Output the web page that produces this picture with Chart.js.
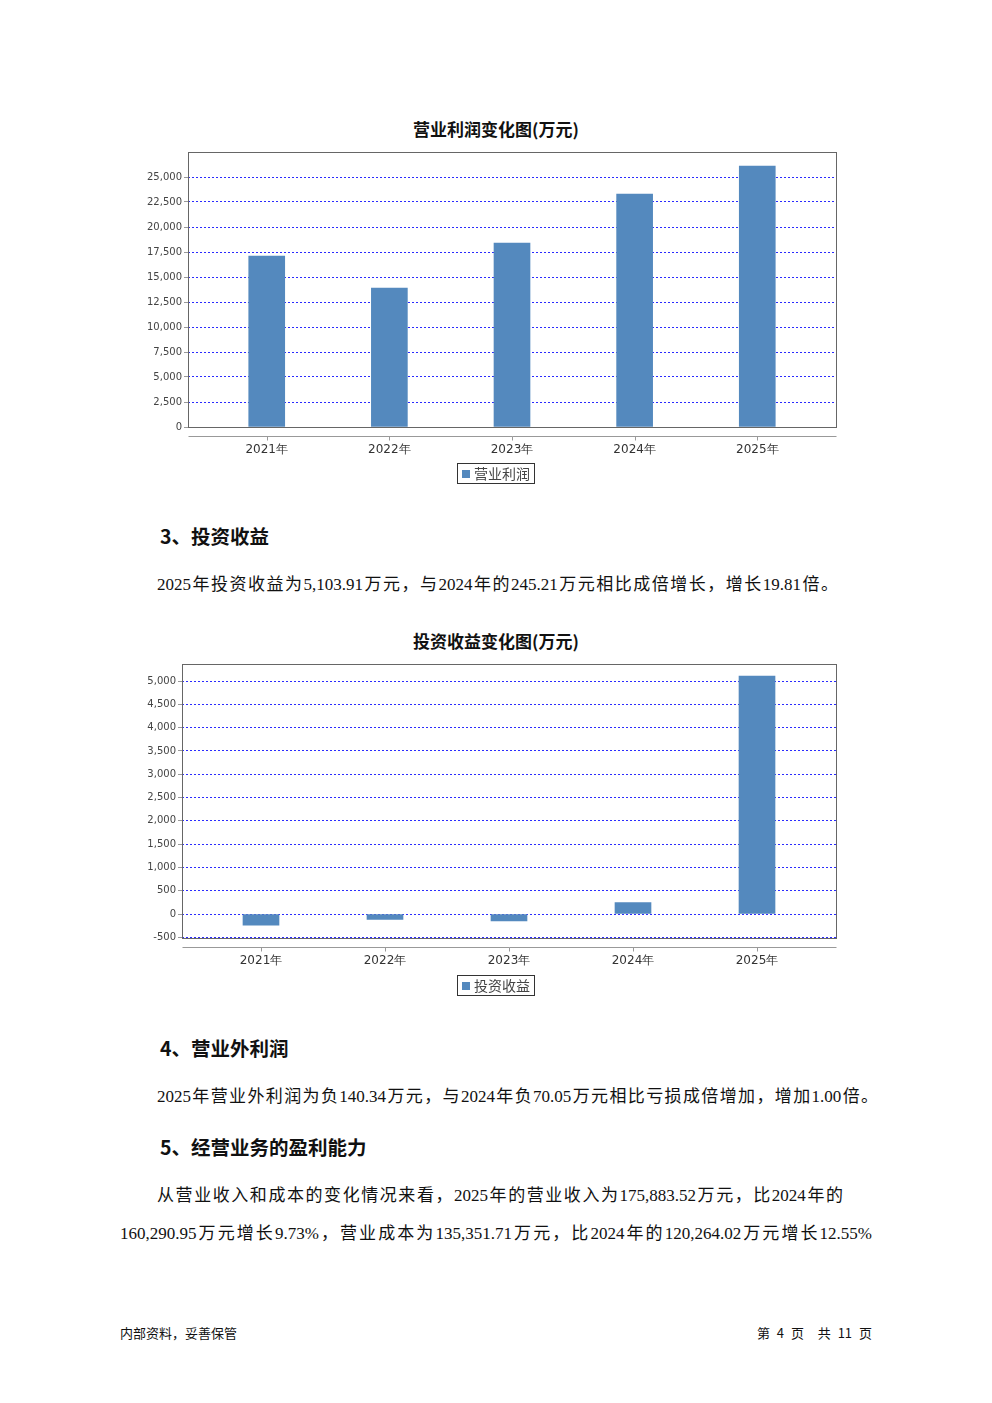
<!DOCTYPE html>
<html>
<head>
<meta charset="utf-8">
<script src="https://cdn.jsdelivr.net/npm/chart.js@4.4.1/dist/chart.umd.min.js"></script>
<style>
  body { margin: 0; background: #fff; }
  #page { position: relative; width: 992px; height: 1403px; overflow: hidden; color: #111; }
  .abs { position: absolute; white-space: nowrap; }
  .ctitle { left: 0; width: 992px; text-align: center; font: bold 17px "Noto Sans CJK SC", sans-serif; line-height: 20px; color: #111; }
  .legend { left: 457px; width: 76px; height: 19px; border: 1px solid #333; font: 14px "Noto Sans CJK SC", sans-serif; color: #444; line-height: 19px; }
  .legend i { display: inline-block; width: 8px; height: 8px; background: #5489be; margin: 0 4px 0 4px; vertical-align: 1px; }
  .head { left: 160px; font: bold 19.5px "Noto Sans CJK SC", sans-serif; line-height: 24px; }
  .line { font: 17px "Liberation Serif", "Noto Sans CJK SC", serif; line-height: 24px; text-align: justify; text-align-last: justify; }
  .foot { font: 13px "Noto Sans CJK SC", sans-serif; line-height: 16px; color: #111; }
  canvas { position: absolute; }
</style>
</head>
<body>
<div id="page">
  <div class="abs ctitle" style="top:119px">营业利润变化图(万元)</div>
  <canvas id="profitChart" width="720" height="330" style="left:130px; top:140px; width:720px; height:330px"></canvas>
  <div class="abs legend" style="top:463px"><i></i>营业利润</div>

  <div class="abs head" style="top:524px">3、投资收益</div>
  <div class="abs line" style="left:157px; width:681px; top:573px">2025年投资收益为5,103.91万元，与2024年的245.21万元相比成倍增长，增长19.81倍。</div>

  <div class="abs ctitle" style="top:631px">投资收益变化图(万元)</div>
  <canvas id="investChart" width="726" height="329" style="left:124px; top:652px; width:726px; height:329px"></canvas>
  <div class="abs legend" style="top:975px"><i></i>投资收益</div>

  <div class="abs head" style="top:1036px">4、营业外利润</div>
  <div class="abs line" style="left:157px; width:721px; top:1085px">2025年营业外利润为负140.34万元，与2024年负70.05万元相比亏损成倍增加，增加1.00倍。</div>

  <div class="abs head" style="top:1135px">5、经营业务的盈利能力</div>
  <div class="abs line" style="left:157px; width:686px; top:1184px">从营业收入和成本的变化情况来看，2025年的营业收入为175,883.52万元，比2024年的</div>
  <div class="abs line" style="left:120px; width:752px; top:1222px">160,290.95万元增长9.73%，营业成本为135,351.71万元，比2024年的120,264.02万元增长12.55%</div>

  <div class="abs foot" style="left:120px; top:1325px">内部资料，妥善保管</div>
  <div class="abs foot" style="right:120px; top:1325px; word-spacing:4px">第 4 页 &nbsp;共 11 页</div>
</div>
<script>
// categories
const years = ["2021年", "2022年", "2023年", "2024年", "2025年"];

// 营业利润 (万元)
const profitValues = [17100, 13900, 18400, 23300, 26100];
const profitTicks = [0, 2500, 5000, 7500, 10000, 12500, 15000, 17500, 20000, 22500, 25000];

// 投资收益 (万元)
const investValues = [-240, -115, -150, 245.21, 5103.91];
const investTicks = [-500, 0, 500, 1000, 1500, 2000, 2500, 3000, 3500, 4000, 4500, 5000];

const BAR_COLOR = "#5489be";

// plot frame plus the x axis line that sits a little below it
const framePlugin = {
  id: "frame",
  afterDraw(chart) {
    const { ctx, chartArea: a, scales } = chart;
    const l = Math.round(a.left) + 0.5, t = Math.round(a.top) + 0.5;
    const r = Math.round(a.right) + 0.5, b = Math.round(a.bottom) + 0.5;
    ctx.save();
    ctx.strokeStyle = "#666";
    ctx.lineWidth = 1;
    ctx.strokeRect(l, t, r - l, b - t);
    const ay = b + 9;
    ctx.strokeStyle = "#999";
    ctx.beginPath();
    ctx.moveTo(l, ay);
    ctx.lineTo(r, ay);
    years.forEach((_, i) => {
      const x = Math.round(scales.x.getPixelForValue(i)) + 0.5;
      ctx.moveTo(x, ay);
      ctx.lineTo(x, ay + 4);
    });
    ctx.stroke();
    ctx.restore();
  }
};

function makeChart(id, label, values, ticks, yMin, yMax, xPad) {
  return new Chart(document.getElementById(id).getContext("2d"), {
    type: "bar",
    data: {
      datasets: [{
        label: label,
        data: values.map((v, i) => ({ x: i, y: v })),
        backgroundColor: BAR_COLOR,
        borderWidth: 0,
        barThickness: 36
      }]
    },
    options: {
      responsive: false,
      animation: false,
      layout: { padding: { left: 0, right: 14, top: 12, bottom: 13 } },
      plugins: { legend: { display: false }, title: { display: false }, tooltip: { enabled: false } },
      scales: {
        x: {
          type: "linear",
          offset: false,
          min: -xPad,
          max: 4 + xPad,
          afterBuildTicks: s => { s.ticks = years.map((_, i) => ({ value: i })); },
          afterFit: s => { s.height = 30; },
          grid: { drawOnChartArea: false, drawTicks: false, offset: false },
          border: { display: false },
          ticks: {
            autoSkip: false, maxRotation: 0, padding: 16,
            color: "#333", font: { family: "DejaVu Sans", size: 12 },
            callback: v => years[v]
          }
        },
        y: {
          min: yMin,
          max: yMax,
          afterBuildTicks: s => { s.ticks = ticks.map(v => ({ value: v })); },
          afterFit: s => { s.width = 58; },
          grid: { color: "#2b2bff", lineWidth: 1, tickLength: 4, tickColor: "#999" },
          border: { display: false, dash: [2, 2] },
          ticks: {
            padding: 2, color: "#444",
            font: { family: "DejaVu Sans", size: 10 },
            callback: v => v.toLocaleString("en-US")
          }
        }
      }
    },
    plugins: [framePlugin]
  });
}

makeChart("profitChart", "营业利润", profitValues, profitTicks, 0, 27500, 0.642);
makeChart("investChart", "投资收益", investValues, investTicks, -515, 5365, 0.637);
</script>
</body>
</html>
